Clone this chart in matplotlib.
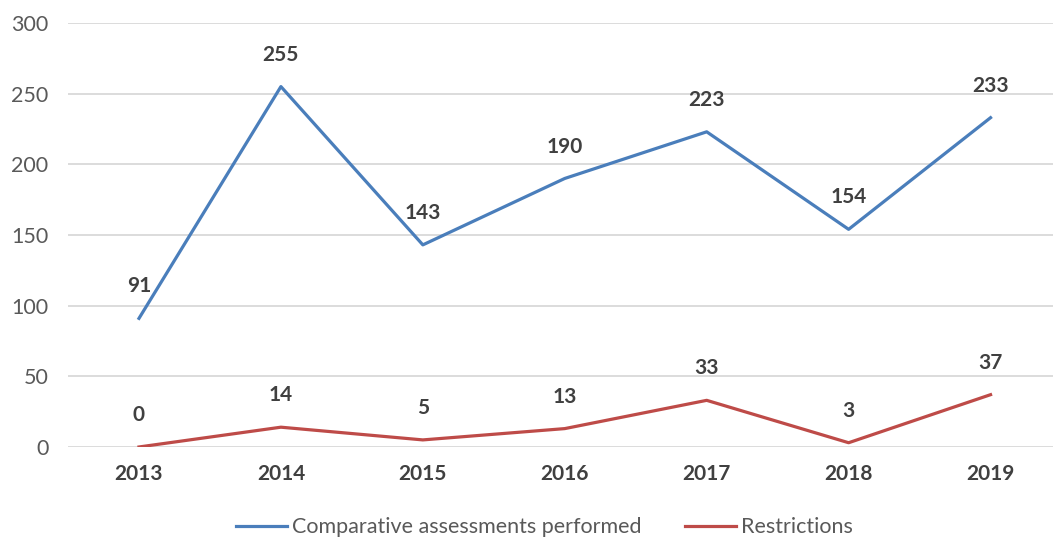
import matplotlib.pyplot as plt

years = ['2013', '2014', '2015', '2016', '2017', '2018', '2019']
assessments = [91, 255, 143, 190, 223, 154, 233]
restrictions = [0, 14, 5, 13, 33, 3, 37]

BLUE = '#4A7EBB'
RED = '#BE4B48'
TEXT = '#404040'
TICK = '#595959'

plt.rcParams['font.family'] = ['Lato', 'DejaVu Sans']

fig = plt.figure(figsize=(10.53, 5.41), dpi=100)
ax = fig.add_axes([0.0646, 0.1738, 0.9354, 0.7837])

x = range(len(years))
ax.plot(x, assessments, color=BLUE, lw=2.3, label='Comparative assessments performed')
ax.plot(x, restrictions, color=RED, lw=2.3, label='Restrictions')

# value labels above each point
for xs, ys in [(x, assessments), (x, restrictions)]:
    for xi, yi in zip(xs, ys):
        ax.annotate(str(yi), (xi, yi), xytext=(0, 23), textcoords='offset points',
                    ha='center', va='center', fontsize=15, fontweight='bold', color=TEXT)

ax.set_xlim(-0.5, 6.44)
ax.set_ylim(0, 300)
ax.set_yticks(range(0, 301, 50))
ax.set_xticks(list(x))
ax.set_xticklabels(years, fontsize=15, fontweight='bold', color=TEXT)
ax.tick_params(axis='y', labelsize=15.5, labelcolor=TICK, length=0, pad=14)
ax.tick_params(axis='x', length=0, pad=12)
ax.grid(axis='y', color='#D9D9D9', lw=1.3)
ax.set_axisbelow(True)
for s in ax.spines.values():
    s.set_visible(False)

leg = fig.legend(loc='center', bbox_to_anchor=(0.517, 0.025), ncol=2, frameon=False,
                 fontsize=15.5, handlelength=2.4, handletextpad=0.23, columnspacing=2.0)
for t in leg.get_texts():
    t.set_color(TICK)

fig.savefig('out.png', dpi=100)
